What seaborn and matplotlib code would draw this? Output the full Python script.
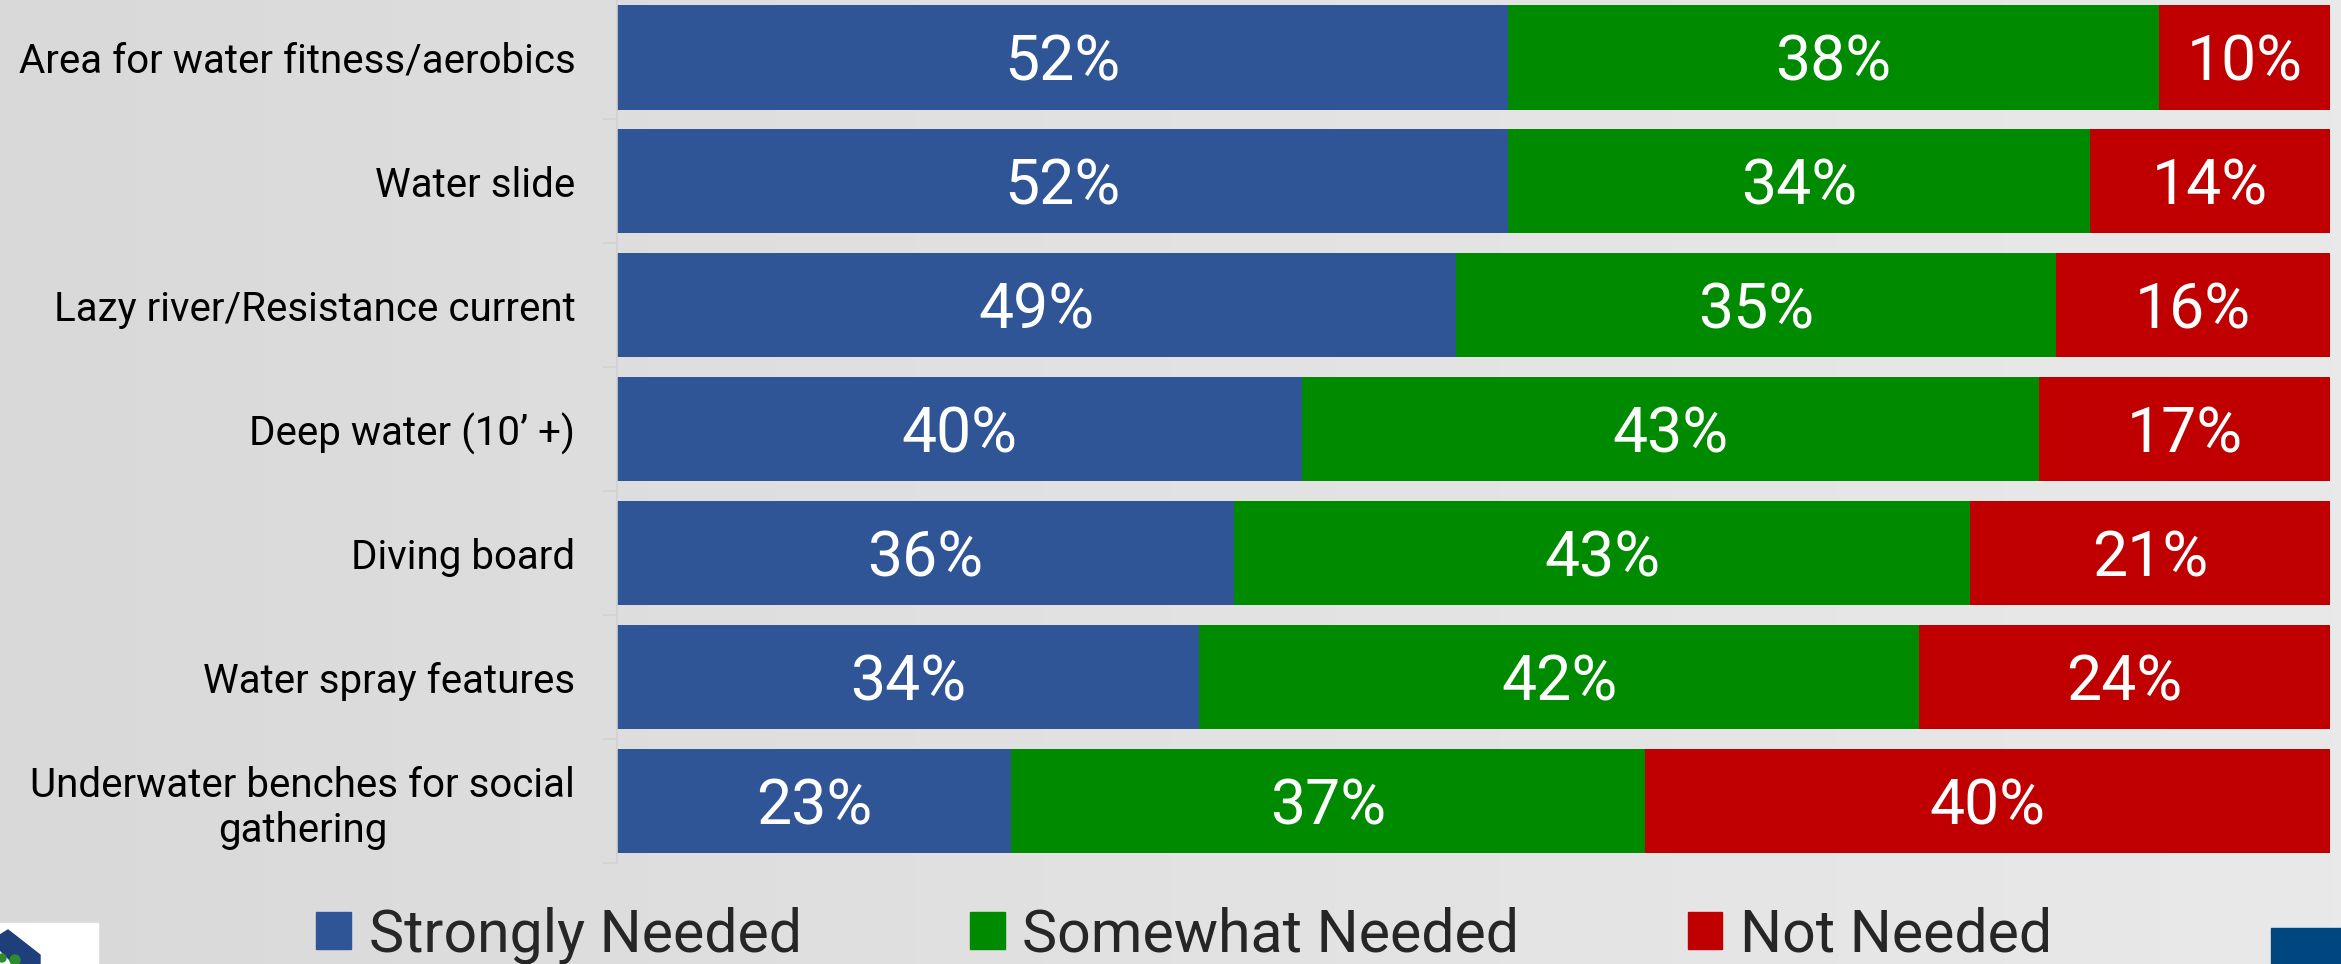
import matplotlib
matplotlib.use("Agg")
import matplotlib.pyplot as plt
import seaborn as sns
import numpy as np
import pandas as pd
from matplotlib.patches import Rectangle, Polygon, Circle
from matplotlib.ticker import FixedLocator
from matplotlib.colors import LinearSegmentedColormap

# ---- data ----
categories = [
    "Area for water fitness/aerobics",
    "Water slide",
    "Lazy river/Resistance current",
    "Deep water (10\u2019 +)",
    "Diving board",
    "Water spray features",
    "Underwater benches for social\ngathering",
]
strongly = [52, 52, 49, 40, 36, 34, 23]
somewhat = [38, 34, 35, 43, 43, 42, 37]
not_needed = [10, 14, 16, 17, 21, 24, 40]
series_names = ["Strongly Needed", "Somewhat Needed", "Not Needed"]
colors = ["#2F5597", "#008A00", "#C00000"]

sns.set_theme(style="white")
plt.rcParams["font.family"] = ["Roboto", "DejaVu Sans"]

W, H = 2341, 964
fig = plt.figure(figsize=(W / 100, H / 100), dpi=100)

# background gradient
bg = fig.add_axes([0, 0, 1, 1], zorder=-10)
grad = np.linspace(0, 1, 256).reshape(1, -1)
cmap = LinearSegmentedColormap.from_list("bg", ["#d9d9d9", "#e2e2e2", "#e9e9e9"])
bg.imshow(grad, aspect="auto", cmap=cmap, extent=[0, 1, 0, 1])
bg.set_axis_off()

# decorations: logo box bottom-left, blue box bottom-right
deco = fig.add_axes([0, 0, 1, 1], zorder=-5)
deco.set_xlim(0, W)
deco.set_ylim(H, 0)
deco.set_axis_off()
deco.add_patch(Rectangle((0, 923), 98, 41, color="white"))
deco.add_patch(Polygon([[0, 935], [8, 930], [40, 955], [40, 964], [14, 964], [0, 950]], color="#1f3f7a"))
deco.add_patch(Circle((15, 960), 5, color="#2e8b2e"))
deco.add_patch(Circle((2, 958), 4, color="#2e8b2e"))
deco.add_patch(Rectangle((2271, 928), 70, 36, color="#00467F"))

# main axes
left = 617 / W
right = 2330 / W
bottom = (H - 863) / H
top = (H + 4.5) / H
ax = fig.add_axes([left, bottom, right - left, top - bottom])
ax.set_facecolor("none")

df = pd.DataFrame({
    "category": categories,
    series_names[0]: strongly,
    series_names[1]: somewhat,
    series_names[2]: not_needed,
})
cum = df[series_names].cumsum(axis=1)

# draw cumulative bars from back (total) to front
for name, col in reversed(list(zip(series_names, colors))):
    sns.barplot(data=cum.assign(category=categories), x=name, y="category",
                orient="h", color=col, saturation=1, width=0.84,
                linewidth=0, ax=ax)

# value labels at segment centres
starts = df[series_names].cumsum(axis=1) - df[series_names]
for name in series_names:
    for i, v in enumerate(df[name]):
        ax.text(starts[name][i] + v / 2, i, f"{v}%", ha="center",
                va="center_baseline", color="white", fontsize=45)

ax.set_xlim(0, 100)
ax.set_ylim(6.5, -0.5)
ax.set_xlabel("")
ax.set_ylabel("")
ax.set_xticks([])
for s in ["top", "right", "bottom"]:
    ax.spines[s].set_visible(False)
ax.spines["left"].set_color("#d2d2d2")
ax.spines["left"].set_linewidth(1.2)
ax.yaxis.set_minor_locator(FixedLocator(np.arange(-0.5, 7, 1)))
ax.tick_params(axis="y", which="major", length=0, pad=30, labelsize=29,
               labelcolor="black")
ax.tick_params(axis="y", which="minor", length=10, width=1.2,
               color="#d2d2d2", left=True)
for lbl in ax.get_yticklabels():
    lbl.set_multialignment("center")

handles = [Rectangle((0, 0), 1, 1, color=c) for c in colors]
fig.legend(handles, series_names, loc="center left",
           bbox_to_anchor=(316 / W, (H - 935) / H), ncol=3, frameon=False,
           fontsize=42.5, handlelength=0.59, handleheight=0.59,
           handletextpad=0.3, columnspacing=2.85, borderpad=0,
           borderaxespad=0)

fig.savefig("out.png", dpi=100)
